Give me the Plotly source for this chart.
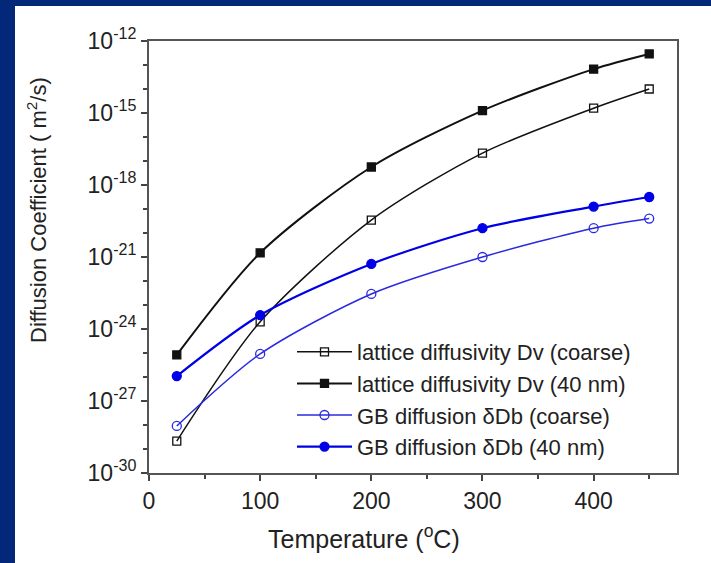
import plotly.graph_objects as go

temps = [25, 100, 200, 300, 400, 450]
log_dv_coarse = [-28.67, -23.7, -19.46, -16.67, -14.8, -14.0]
log_dv_40nm = [-25.08, -20.83, -17.25, -14.9, -13.17, -12.54]
log_gb_coarse = [-28.04, -25.04, -22.54, -21.0, -19.8, -19.4]
log_gb_40nm = [-25.96, -23.42, -21.29, -19.8, -18.9, -18.5]

names = ["lattice diffusivity Dv (coarse)", "lattice diffusivity Dv (40 nm)",
         "GB diffusion \u03b4Db (coarse)", "GB diffusion \u03b4Db (40 nm)"]

ytick_exp = [-12, -15, -18, -21, -24, -27, -30]
xtick_vals = [0, 100, 200, 300, 400]
x_title = "Temperature (<sup>o</sup>C)"
y_title = "Diffusion Coefficient ( m<sup>2</sup>/s)"

fig = go.Figure()
styles = [
    (log_dv_coarse, "#111111", 1.5, "square-open", 8),
    (log_dv_40nm, "#111111", 2.0, "square", 8),
    (log_gb_coarse, "#2a2ae0", 1.5, "circle-open", 9),
    (log_gb_40nm, "#0000e6", 2.2, "circle", 9),
]
for (vals, col, w, sym, ms), nm in zip(styles, names):
    fig.add_trace(go.Scatter(
        x=temps, y=[10 ** v for v in vals], name=nm, mode="lines+markers",
        line=dict(color=col, width=w, shape="spline", smoothing=0.8),
        marker=dict(symbol=sym, size=ms, color=col, line=dict(color=col, width=1.3)),
    ))

L, R, T, B = 149, 34, 41, 90
W, H = 711, 563
pw, ph = W - L - R, H - T - B

def px(x):
    return (x - L) / pw

def py(y):
    return (H - B - y) / ph

blue = "#03287a"
shapes = [
    dict(type="rect", xref="paper", yref="paper", x0=px(0), x1=px(15), y0=py(H), y1=py(0),
         fillcolor=blue, line_width=0, layer="below"),
    dict(type="rect", xref="paper", yref="paper", x0=px(0), x1=px(W), y0=py(6), y1=py(0),
         fillcolor=blue, line_width=0, layer="below"),
]

annotations = [
    dict(text=x_title, xref="paper", yref="paper", x=px(364), y=py(537),
         xanchor="center", yanchor="middle", showarrow=False, font=dict(size=25)),
    dict(text=y_title, xref="paper", yref="paper", x=px(37), y=py(210), textangle=-90,
         xanchor="center", yanchor="middle", showarrow=False, font=dict(size=22)),
]

fig.update_layout(
    width=W, height=H,
    margin=dict(l=L, r=R, t=T, b=B),
    paper_bgcolor="white", plot_bgcolor="white",
    font=dict(family="Liberation Sans, Arial, sans-serif", color="#222222", size=22),
    shapes=shapes,
    annotations=annotations,
    showlegend=True,
    legend=dict(x=px(292), y=py(331), xanchor="left", yanchor="top",
                bgcolor="rgba(0,0,0,0)", font=dict(size=22), itemwidth=55,
                tracegroupgap=0),
    xaxis=dict(range=[0, 475], tickmode="array", tickvals=xtick_vals,
               ticks="outside", ticklen=6, tickwidth=1.5, tickcolor="#444",
               showline=True, linecolor="#555", linewidth=2, mirror=True,
               showgrid=False, zeroline=False, tickfont=dict(size=23),
               minor=dict(tickvals=[50, 150, 250, 350, 450], ticks="outside", ticklen=4,
                          tickcolor="#444", showgrid=False)),
    yaxis=dict(type="log", range=[-30, -12], tickmode="array",
               tickvals=[10 ** e for e in ytick_exp],
               ticktext=["10<sup>%d</sup>" % e for e in ytick_exp],
               ticks="outside", ticklen=6, tickwidth=1.5, tickcolor="#444",
               showline=True, linecolor="#555", linewidth=2, mirror=True,
               showgrid=False, zeroline=False, tickfont=dict(size=23),
               minor=dict(tickvals=[10 ** e for e in range(-30, -11)], ticks="outside",
                          ticklen=4, tickcolor="#444", showgrid=False)),
)

fig.write_html("out.html")
